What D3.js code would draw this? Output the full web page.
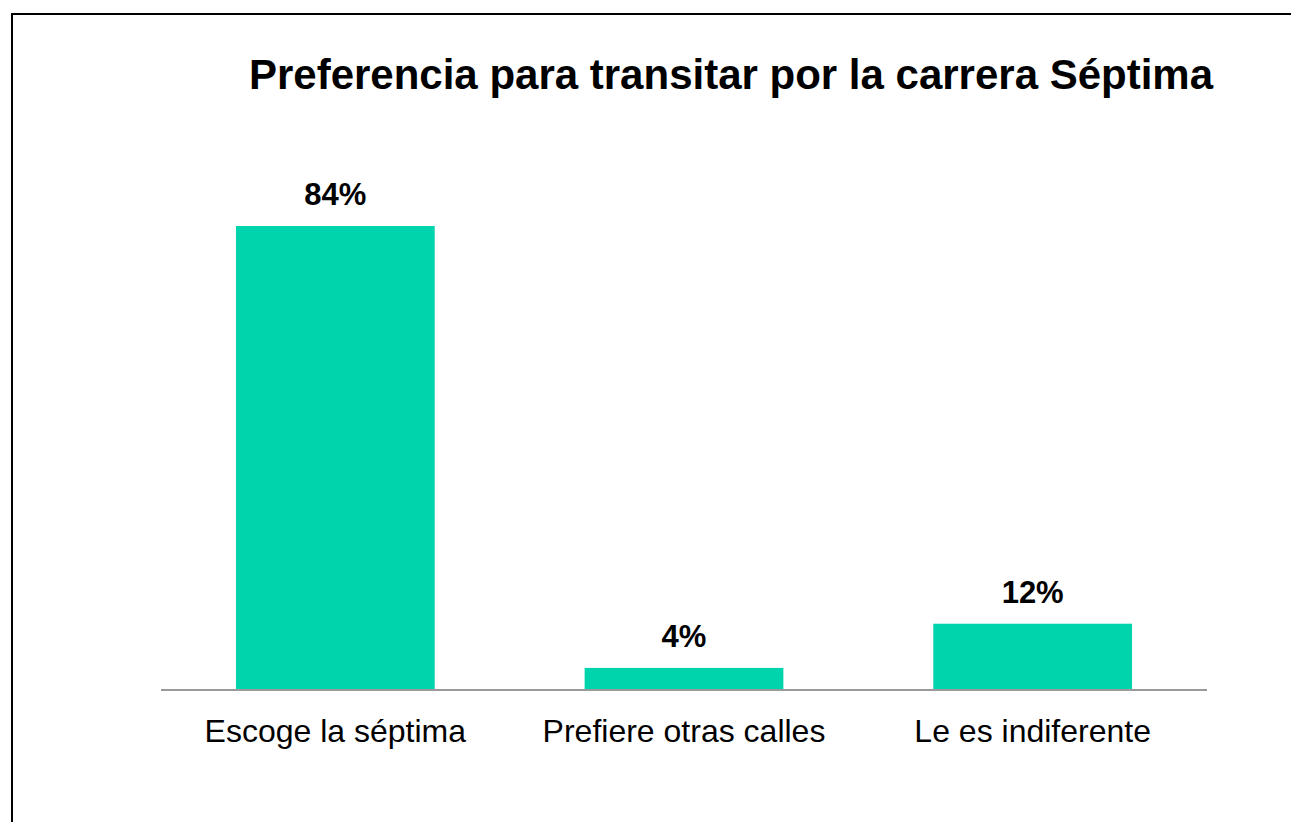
<!DOCTYPE html>
<html>
<head>
<meta charset="utf-8">
<script src="https://cdn.jsdelivr.net/npm/d3@7"></script>
<style>
  html, body { margin: 0; padding: 0; background: #fff; }
  svg { display: block; font-family: "Liberation Sans", Arial, sans-serif; }
</style>
</head>
<body>
<div id="chart"></div>
<script>
(function(){

    // data
    var categories = ["Escoge la séptima", "Prefiere otras calles", "Le es indiferente"];
    var values = [84, 4, 12];
    var valueLabels = ["84%", "4%", "12%"];
    var title = "Preferencia para transitar por la carrera Séptima";

    var width = 1291, height = 822;
    var barColor = "#00d4ad";

    var svg = d3.select("#chart").append("svg")
        .attr("width", width)
        .attr("height", height);

    // outer frame, runs off the right and bottom edge
    svg.append("rect")
        .attr("x", 12).attr("y", 14)
        .attr("width", width + 20).attr("height", height + 20)
        .style("fill", "none")
        .style("stroke", "#000")
        .style("stroke-width", 2);

    svg.append("text")
        .attr("x", 731).attr("y", 89)
        .attr("text-anchor", "middle")
        .style("font-size", "42px")
        .style("font-weight", "bold")
        .text(title);

    var x = d3.scaleBand()
        .domain(categories)
        .range([161, 1207])
        .paddingInner(0.43)
        .paddingOuter(0.215);

    var baseY = 690;
    var y = d3.scaleLinear()
        .domain([0, 100])
        .range([baseY, baseY - 464 / 0.84]);

    var g = svg.append("g");

    g.selectAll("rect.bar")
        .data(values)
        .enter().append("rect")
        .attr("class", "bar")
        .attr("x", function(d, i){ return x(categories[i]); })
        .attr("width", x.bandwidth())
        .attr("y", function(d){ return y(d); })
        .attr("height", function(d){ return baseY - y(d); })
        .style("fill", barColor);

    // value labels
    g.selectAll("text.val")
        .data(values)
        .enter().append("text")
        .attr("class", "val")
        .attr("x", function(d, i){ return x(categories[i]) + x.bandwidth() / 2; })
        .attr("y", function(d){ return y(d) - 21; })
        .attr("text-anchor", "middle")
        .style("font-size", "31px")
        .style("font-weight", "bold")
        .text(function(d, i){ return valueLabels[i]; });

    // category axis
    var axis = svg.append("g")
        .attr("transform", "translate(0," + baseY + ")")
        .call(d3.axisBottom(x).tickSize(0).tickPadding(29));
    axis.select(".domain")
        .attr("d", "M161,0H1207")
        .style("stroke", "#999")
        .style("stroke-width", 2);
    axis.selectAll(".tick text")
        .attr("dy", "0.71em")
        .style("font-size", "32px")
        .style("font-family", "\"Liberation Sans\", Arial, sans-serif")
        .style("fill", "#000");

})();
</script>
</body>
</html>
